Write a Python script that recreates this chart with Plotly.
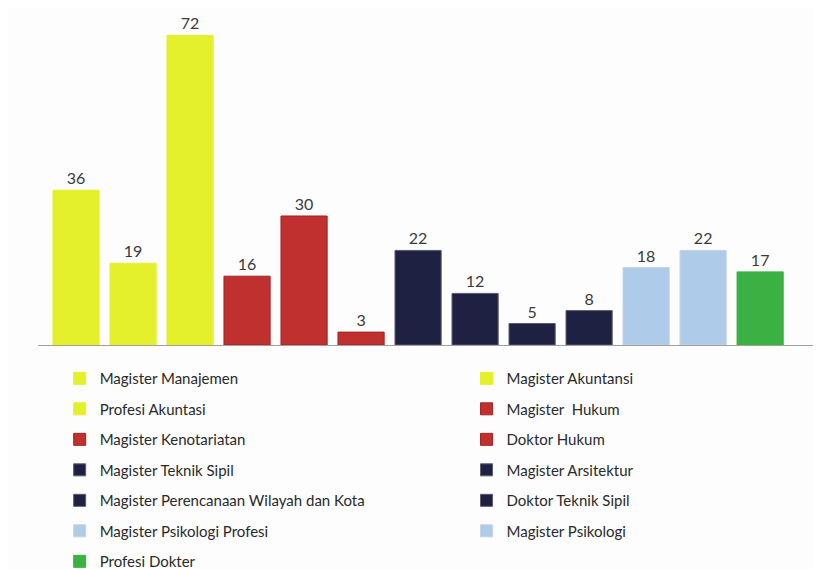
"""Jumlah mahasiswa per program studi pascasarjana"""

import plotly.graph_objects as go


PROGRAMS = [
    "Magister Manajemen",
    "Magister Akuntansi",
    "Profesi Akuntasi",
    "Magister  Hukum",
    "Magister Kenotariatan",
    "Doktor Hukum",
    "Magister Teknik Sipil",
    "Magister Arsitektur",
    "Magister Perencanaan Wilayah dan Kota",
    "Doktor Teknik Sipil",
    "Magister Psikologi Profesi",
    "Magister Psikologi",
    "Profesi Dokter",
]
COUNTS = [36, 19, 72, 16, 30, 3, 22, 12, 5, 8, 18, 22, 17]

YELLOW = "#E5F02C"
RED = "#C0302E"
NAVY = "#1F2142"
LIGHT_BLUE = "#AECBEA"
GREEN = "#3BB143"
BAR_COLORS = [YELLOW, YELLOW, YELLOW, RED, RED, RED,
              NAVY, NAVY, NAVY, NAVY, LIGHT_BLUE, LIGHT_BLUE, GREEN]
EDGE_COLORS = ["#E5F02C", "#E5F02C", "#E5F02C", "#9E2624", "#9E2624", "#9E2624",
               "#5A5C6E", "#5A5C6E", "#5A5C6E", "#5A5C6E", "#C3D3E3", "#C3D3E3", "#3BB143"]

FONT = "Lato"
TEXT_COLOR = "#3A3A3A"

fig = go.Figure()

for i, (name, count) in enumerate(zip(PROGRAMS, COUNTS)):
    # legenda dua kolom: indeks genap di kiri, ganjil di kanan
    fig.add_trace(
        go.Bar(
            x=[i],
            y=[count],
            name=name,
            marker=dict(color=BAR_COLORS[i], line=dict(color=EDGE_COLORS[i], width=1)),
            text=[str(count)],
            textposition="outside",
            textfont=dict(size=16, color=TEXT_COLOR, family=FONT),
            cliponaxis=False,
            legend="legend" if i % 2 == 0 else "legend2",
            legendgroup=name,
        )
    )

legend_style = dict(
    orientation="v",
    yanchor="top",
    xanchor="left",
    bgcolor="rgba(0,0,0,0)",
    font=dict(size=15, color="#2A2A2A", family=FONT),
    tracegroupgap=8,
    itemclick=False,
)

# halaman html punya margin 8px, jadi margin figure dikurangi 8px
fig.update_layout(
    width=821,
    height=569,
    barmode="overlay",
    bargap=0.19,
    paper_bgcolor="#FDFDFD",
    plot_bgcolor="#FDFDFD",
    margin=dict(l=30, r=9, t=2, b=232, autoexpand=False),
    xaxis=dict(
        range=[-0.667, 13.05],
        showticklabels=False,
        showgrid=False,
        zeroline=False,
        showline=True,
        linecolor="#A0A0A0",
        linewidth=1,
        ticks="",
        fixedrange=True,
    ),
    yaxis=dict(
        range=[0, 77.9],
        visible=False,
        showgrid=False,
        zeroline=False,
        fixedrange=True,
    ),
    showlegend=True,
    legend=dict(x=0.0277, y=-0.051, **legend_style),
    legend2=dict(x=0.548, y=-0.051, **legend_style),
)

fig.write_html("out.html")
